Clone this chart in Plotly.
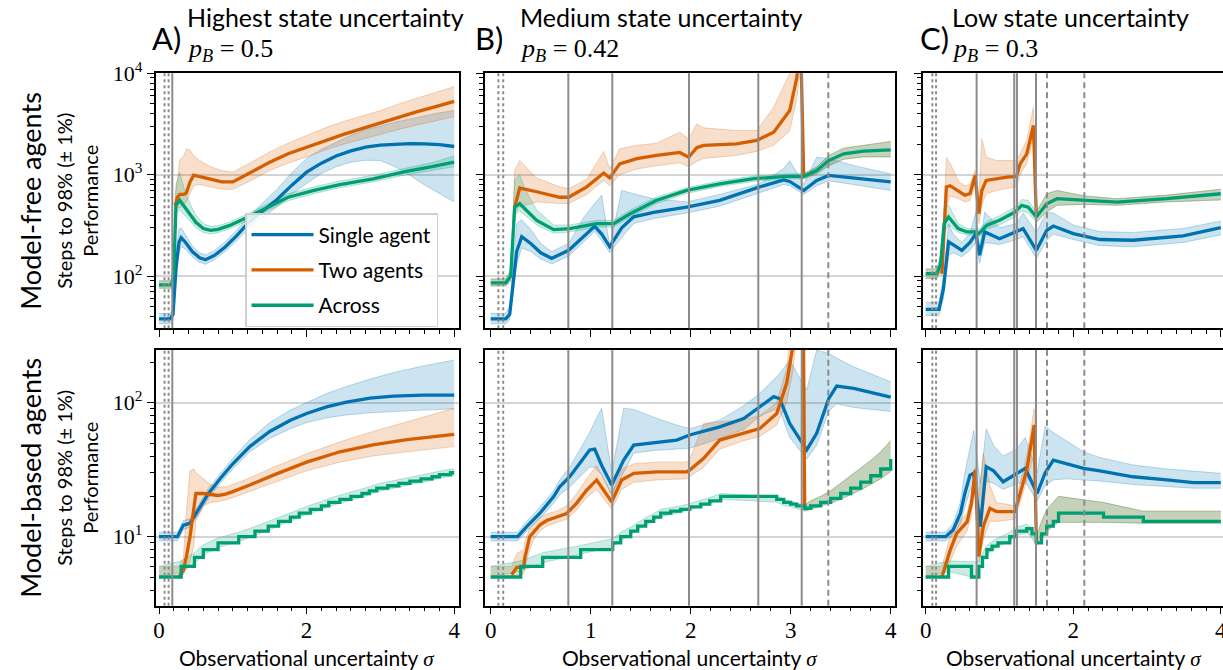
import plotly.graph_objects as go

# ---------------- data ----------------
# Panel A (p_B = 0.5) - model-free (top)
A_mf_single_x = [0, 0.15, 0.19, 0.23, 0.27, 0.30, 0.36, 0.45, 0.55, 0.63, 0.75, 0.9, 1.05, 1.2, 1.37, 1.6, 1.8, 2.0, 2.2, 2.4, 2.6, 2.8, 3.0, 3.2, 3.4, 3.6, 3.8, 4.0]
A_mf_single_y = [38, 38, 42, 120, 215, 240, 215, 175, 152, 145, 160, 195, 250, 330, 420, 570, 790, 1060, 1300, 1530, 1720, 1870, 1960, 2010, 2030, 2020, 1980, 1900]
A_mf_single_lo = [34, 34, 37, 90, 165, 195, 185, 155, 137, 131, 145, 176, 222, 290, 365, 480, 650, 820, 1030, 1200, 1330, 1390, 1380, 1200, 990, 790, 650, 540]
A_mf_single_hi = [43, 43, 48, 170, 290, 300, 255, 200, 170, 162, 178, 220, 283, 378, 500, 720, 1050, 1450, 1780, 2100, 2450, 2780, 3050, 3300, 3550, 3830, 4080, 4300]

A_mf_two_x = [0, 0.17, 0.2, 0.22, 0.25, 0.28, 0.33, 0.37, 0.42, 0.47, 0.55, 0.7, 0.85, 1.0, 1.25, 1.5, 1.75, 2.0, 2.25, 2.5, 2.75, 3.0, 3.25, 3.5, 3.75, 4.0]
A_mf_two_y = [None, None, None, 500, 600, 640, 640, 660, 850, 990, 960, 900, 850, 850, 1060, 1330, 1610, 1870, 2170, 2500, 2850, 3250, 3700, 4200, 4700, 5300]
A_mf_two_lo = [76, 76, 95, 420, 480, 470, 500, 540, 650, 780, 800, 760, 720, 720, 880, 1100, 1300, 1500, 1750, 2000, 2250, 2500, 2800, 3100, 3400, 3740]
A_mf_two_hi = [90, 90, 130, 650, 900, 1400, 1500, 1800, 1750, 1550, 1380, 1200, 1100, 1060, 1330, 1680, 2050, 2450, 2900, 3350, 3800, 4300, 5000, 5700, 6500, 7400]

A_mf_across_x = [0, 0.17, 0.2, 0.23, 0.28, 0.35, 0.42, 0.5, 0.6, 0.7, 0.8, 0.95, 1.2, 1.45, 1.75, 2.1, 2.45, 2.9, 3.35, 3.7, 4.0]
A_mf_across_y = [82, 82, 110, 500, 560, 480, 410, 340, 295, 283, 290, 315, 380, 470, 600, 700, 800, 910, 1080, 1200, 1330]
A_mf_across_lo = [76, 76, 95, 420, 450, 400, 350, 300, 268, 260, 268, 292, 352, 435, 555, 650, 745, 850, 1000, 1100, 1200]
A_mf_across_hi = [90, 90, 130, 800, 1050, 700, 520, 400, 330, 310, 315, 340, 410, 505, 650, 760, 870, 990, 1170, 1320, 1530]

# Panel A - model-based (bottom)
A_mb_single_x = [0, 0.25, 0.33, 0.42, 0.53, 0.67, 0.83, 1.0, 1.23, 1.5, 1.78, 2.0, 2.27, 2.54, 2.86, 3.18, 3.58, 4.0]
A_mb_single_y = [10, 10, 12.2, 12.6, 15.8, 21, 27.2, 35, 47, 61, 74, 83, 93, 101, 108, 112, 114, 114]
A_mb_single_lo = [9.3, 9.3, 11.3, 11.8, 14.5, 19.3, 25, 32, 43, 54, 64, 71, 77, 81, 84, 86, 88, 90]
A_mb_single_hi = [10.8, 10.8, 13.2, 13.6, 17, 23, 29.5, 38.5, 53, 71, 88, 100, 117, 132, 150, 168, 188, 208]

A_mb_two_x = [0, 0.27, 0.33, 0.37, 0.42, 0.47, 0.5, 0.6, 0.7, 0.8, 0.9, 1.0, 1.23, 1.55, 2.0, 2.45, 2.9, 3.36, 4.0]
A_mb_two_y = [None, 5, 5.6, 7.1, 10, 16, 21, 21, 20.5, 20.3, 20.8, 21.7, 24.3, 28.8, 36, 43, 48.5, 53, 58]
A_mb_two_lo = [5, 5, 5.2, 5.8, 6.5, 8.5, 13, 17, 18, 18.3, 18.8, 19.6, 21.8, 25.5, 31, 36, 40, 43, 47]
A_mb_two_hi = [6, 6, 7, 15, 31, 32, 30, 27, 24.5, 23.5, 23.5, 24.5, 27.5, 33, 41.5, 51, 61, 72, 91]

A_mb_across_x = [0, 0.3, 0.48, 0.6, 0.8, 1.08, 1.3, 1.48, 1.62, 1.78, 1.9, 2.05, 2.2, 2.3, 2.45, 2.6, 2.75, 2.85, 2.95, 3.1, 3.25, 3.4, 3.55, 3.7, 3.8, 3.95, 4.0]
A_mb_across_y = [5, 6, 7, 8, 9, 10, 11, 12, 13, 14, 15, 16, 17, 18, 19, 20, 21, 22, 23, 24, 25, 26, 27, 28, 29, 30, 30]
A_mb_across_lo = [5, 5.4, 6.3, 7.3, 8.3, 9.2, 10.2, 11.1, 12.1, 13, 14, 14.9, 15.9, 16.8, 17.8, 18.7, 19.7, 20.6, 21.6, 22.5, 23.5, 24.4, 25.4, 26.3, 27.3, 28.2, 28.5]
A_mb_across_hi = [6, 6.6, 7.6, 8.7, 9.8, 10.8, 11.9, 13, 14, 15.1, 16.1, 17.2, 18.3, 19.3, 20.4, 21.5, 22.5, 23.6, 24.7, 25.7, 26.8, 27.9, 28.9, 30, 31, 32, 32]

# Panel B (p_B = 0.42) - model-free
B_mf_single_x = [0, 0.15, 0.19, 0.26, 0.31, 0.4, 0.5, 0.61, 0.78, 0.93, 1.04, 1.11, 1.19, 1.31, 1.43, 1.63, 1.96, 2.29, 2.69, 2.93, 2.99, 3.13, 3.26, 3.38, 3.63, 4.0]
B_mf_single_y = [38, 38, 42, 175, 245, 210, 170, 150, 180, 245, 310, 260, 195, 300, 385, 425, 480, 560, 760, 890, 860, 700, 880, 985, 935, 850]
B_mf_single_lo = [34, 34, 37, 130, 190, 175, 148, 132, 158, 215, 275, 225, 170, 240, 330, 370, 420, 490, 660, 800, 780, 640, 780, 870, 800, 700]
B_mf_single_hi = [43, 43, 50, 330, 360, 290, 210, 175, 210, 380, 520, 630, 200, 700, 650, 580, 540, 640, 815, 1150, 1380, 800, 1490, 1450, 1235, 1020]

B_mf_two_x = [0, 0.15, 0.2, 0.24, 0.29, 0.46, 0.69, 0.78, 0.96, 1.13, 1.19, 1.29, 1.46, 1.66, 1.89, 1.98, 2.06, 2.13, 2.46, 2.66, 2.83, 2.99, 3.06, 3.1, 3.13, 3.26, 3.38, 3.53, 3.73, 4.0]
B_mf_two_y = [None, None, None, 480, 740, 680, 600, 600, 760, 1040, 930, 1280, 1440, 1550, 1660, 1490, 1850, 1950, 2020, 2180, 2630, 4300, 9000, 20000, 964, None, None, None, None, None]
B_mf_two_lo = [80, 80, 90, 430, 480, 540, 520, 520, 640, 880, 780, 1000, 1140, 1230, 1310, 1200, 1350, 1450, 1550, 1700, 1950, 2700, 5500, 12000, 910, 1020, 1230, 1420, 1500, 1500]
B_mf_two_hi = [94, 94, 115, 1100, 1380, 930, 760, 730, 900, 1700, 1150, 1800, 1950, 2050, 2630, 2260, 3170, 2900, 2730, 2730, 4630, 10000, 20000, 30000, 1030, 1190, 1550, 1830, 1950, 2130]

B_mf_across_x = [0, 0.15, 0.2, 0.24, 0.29, 0.35, 0.46, 0.63, 0.79, 1.06, 1.23, 1.39, 1.66, 1.96, 2.29, 2.63, 2.96, 3.13, 3.26, 3.38, 3.53, 3.73, 4.0]
B_mf_across_y = [86, 86, 100, 480, 518, 450, 355, 288, 295, 330, 330, 410, 560, 700, 815, 915, 964, 964, 1100, 1380, 1610, 1710, 1760]
B_mf_across_lo = [80, 80, 90, 400, 440, 395, 320, 265, 272, 305, 305, 380, 520, 655, 765, 860, 910, 910, 1020, 1230, 1420, 1500, 1500]
B_mf_across_hi = [94, 94, 115, 900, 1000, 700, 450, 320, 320, 355, 355, 445, 605, 745, 870, 970, 1020, 1030, 1190, 1550, 1830, 1950, 2130]

# Panel B - model-based
B_mb_single_x = [0, 0.27, 0.36, 0.49, 0.63, 0.69, 0.79, 0.89, 0.99, 1.04, 1.11, 1.21, 1.33, 1.43, 1.63, 1.86, 1.99, 2.29, 2.53, 2.69, 2.83, 2.89, 2.99, 3.16, 3.26, 3.38, 3.46, 3.63, 4.0]
B_mb_single_y = [10, 10, 11.9, 14.9, 19.9, 23.6, 28, 35.2, 44.4, 45, 34, 24.3, 37.3, 48.3, 50, 52.6, 57.4, 66, 76, 93, 111, 107, 70, 44.4, 59, 107, 133, 128, 110]
B_mb_single_lo = [9.3, 9.3, 11, 13.6, 17.8, 20.5, 23.5, 28, 33, 33, 29, 20.4, 30, 42, 44, 45, 45.6, 54, 63, 79, 88, 88, 55, 38, 48, 86, 98, 92, 86]
B_mb_single_hi = [10.8, 10.8, 13, 16.5, 22, 26.5, 33, 45, 60, 72, 91, 30, 91, 89, 78, 68, 64, 74, 95, 117, 150, 165, 208, 124, 247, 233, 215, 185, 143]

B_mb_two_x = [0, 0.21, 0.26, 0.33, 0.34, 0.39, 0.43, 0.49, 0.56, 0.66, 0.76, 0.86, 0.96, 1.06, 1.21, 1.31, 1.43, 1.66, 1.96, 1.99, 2.13, 2.29, 2.53, 2.69, 2.86, 2.96, 3.02, 3.08, 3.12, 3.14, 3.2, 3.3, 3.4, 3.5, 3.6, 3.7, 3.8, 3.9, 4.0]
B_mb_two_y = [None, 5.2, 5.9, 5.9, 6.9, 10, 10.9, 12.2, 13.2, 14, 14.9, 17.8, 22.3, 26.5, 18.2, 26.5, 29.7, 30.5, 30.5, 31.4, 38.5, 52.6, 59, 64, 83, 140, 260, 700, 2000, 16.3, None, None, None, None, None, None, None, None, None]
B_mb_two_lo = [5, 5, 5.2, 5.3, 5.8, 8, 9.5, 11, 12, 12.8, 13.5, 15.8, 19.5, 22.5, 16, 22.5, 25.5, 26.5, 27, 28, 33, 45, 52, 56, 68, 100, 170, 400, 1000, 15.5, 16, 16.8, 17.8, 19, 20.5, 22.3, 24.5, 27, 30.6]
B_mb_two_hi = [6, 6, 7.5, 8, 9, 11.5, 12.5, 13.8, 14.8, 15.5, 17, 21, 27, 34, 21, 32, 35, 36, 36, 38, 70, 72, 75, 80, 100, 180, 400, 1200, 3000, 17.2, 18.5, 20, 22, 25, 28.5, 32.5, 37, 43, 52]

B_mb_across_x = [0, 0.3, 0.52, 0.9, 1.22, 1.3, 1.4, 1.47, 1.55, 1.63, 1.7, 1.8, 1.9, 1.99, 2.1, 2.19, 2.3, 2.86, 2.93, 3.0, 3.06, 3.14, 3.2, 3.3, 3.4, 3.5, 3.6, 3.7, 3.8, 3.9, 4.0]
B_mb_across_y = [5, 6, 7, 8, 9, 10, 11, 12, 13, 14, 15, 15.5, 16, 16.7, 17.5, 18.5, 20, 19, 18, 17.5, 17, 16.3, 17, 18, 19.3, 21, 23, 25.5, 28.5, 32, 38]
B_mb_across_lo = [5, 5.5, 6.4, 7.4, 8.4, 9.3, 10.3, 11.2, 12.2, 13.1, 14.1, 14.6, 15.2, 15.9, 16.7, 17.6, 19, 18.1, 17.1, 16.7, 16.2, 15.5, 16, 16.8, 17.8, 19, 20.5, 22.3, 24.5, 27, 30.6]
B_mb_across_hi = [6, 6.6, 7.6, 8.6, 9.7, 10.8, 11.8, 12.8, 13.9, 14.9, 16, 16.5, 17, 17.7, 18.6, 19.6, 21, 20, 19, 18.4, 17.9, 17.2, 18.5, 20, 22, 25, 28.5, 32.5, 37, 43, 52]

# Panel C (p_B = 0.3) - model-free
C_mf_single_x = [0, 0.18, 0.24, 0.31, 0.37, 0.49, 0.6, 0.68, 0.73, 0.8, 1.0, 1.23, 1.32, 1.5, 1.64, 1.73, 2.0, 2.36, 2.81, 3.49, 4.0]
C_mf_single_y = [47, 47, 75, 218, 205, 180, 215, 263, 161, 273, 234, 273, 294, 180, 283, 312, 263, 230, 226, 250, 301]
C_mf_single_lo = [41, 41, 60, 160, 170, 155, 180, 215, 135, 215, 205, 230, 245, 150, 225, 260, 230, 200, 195, 215, 255]
C_mf_single_hi = [55, 55, 100, 330, 260, 215, 265, 430, 190, 430, 300, 330, 420, 270, 430, 420, 320, 275, 270, 295, 350]

C_mf_two_x = [0, 0.15, 0.2, 0.22, 0.28, 0.33, 0.45, 0.53, 0.6, 0.67, 0.72, 0.76, 0.82, 0.96, 1.1, 1.23, 1.28, 1.37, 1.46, 1.5, 1.64, 1.78, 2.14, 2.59, 3.27, 4.0]
C_mf_two_y = [None, None, None, 106, 757, 780, 680, 630, 650, 985, 413, 700, 880, 913, 950, 963, 1280, 1610, 3060, 384, None, None, None, None, None, None]
C_mf_two_lo = [95, 95, 110, 100, 480, 620, 580, 540, 560, 780, 330, 500, 650, 700, 730, 760, 1000, 1300, 2300, 340, 430, 500, 510, 500, 540, 565]
C_mf_two_hi = [118, 118, 155, 130, 1480, 1300, 850, 780, 800, 1100, 600, 2260, 1500, 1380, 1380, 1380, 1600, 2200, 4630, 430, 650, 700, 620, 580, 630, 720]

C_mf_across_x = [0, 0.15, 0.2, 0.25, 0.31, 0.44, 0.56, 0.68, 0.72, 0.83, 1.0, 1.21, 1.3, 1.39, 1.5, 1.64, 1.78, 2.14, 2.59, 3.27, 4.0]
C_mf_across_y = [106, 106, 130, 330, 384, 295, 273, 273, 262, 318, 356, 429, 499, 480, 384, 518, 581, 560, 538, 581, 650]
C_mf_across_lo = [95, 95, 110, 270, 320, 270, 255, 255, 240, 290, 320, 385, 440, 420, 340, 430, 500, 510, 500, 540, 565]
C_mf_across_hi = [118, 118, 155, 480, 500, 330, 295, 295, 290, 345, 395, 480, 570, 560, 430, 650, 700, 620, 580, 630, 720]

# Panel C - model-based
C_mb_single_x = [0, 0.27, 0.37, 0.47, 0.53, 0.6, 0.65, 0.74, 0.82, 0.92, 1.05, 1.23, 1.35, 1.51, 1.62, 1.73, 1.91, 2.14, 2.36, 2.81, 3.27, 3.63, 4.0]
C_mb_single_y = [10, 10, 11.2, 14.9, 21, 28.8, 29.7, 11.9, 33.3, 31, 25.7, 29.7, 32.4, 21, 30, 37.3, 35.2, 32.4, 31, 28, 26.5, 25.3, 25.3]
C_mb_single_lo = [9.3, 9.3, 10.3, 12.5, 16.5, 22, 24, 10, 26, 25, 22.5, 24.8, 25.5, 18.5, 24, 26.5, 27, 26.5, 26, 24.5, 23.5, 23, 23]
C_mb_single_hi = [10.8, 10.8, 12.5, 18, 30, 45, 62, 25, 64, 48, 40, 45, 55, 30, 67, 60, 52, 43, 39, 34.3, 32, 31, 29.7]

C_mb_two_x = [0, 0.22, 0.33, 0.42, 0.56, 0.62, 0.67, 0.72, 0.78, 0.87, 0.96, 1.21, 1.28, 1.37, 1.47, 1.5, 1.57, 1.64, 1.73, 1.8, 2.41, 2.95, 4.0]
C_mb_two_y = [None, 5, 7.9, 10.6, 12.9, 17.7, 31.5, 7.1, 11.9, 16.3, 15.4, 15.4, 21, 31.5, 68, 9, None, None, None, None, None, None, None]
C_mb_two_lo = [5, 5, 6.5, 8.5, 11, 14.5, 24, 6.5, 9.5, 13, 13, 13.5, 18, 26, 42, 8.6, 9.5, 11, 12, 12.8, 12.8, 12.6, 12.6]
C_mb_two_hi = [6, 6, 10, 12.5, 15, 21, 33, 20, 42, 24, 18, 17, 25, 40, 90, 10, 13, 16, 18, 20, 18, 15.5, 15.5]

C_mb_across_x = [0, 0.31, 0.62, 0.72, 0.77, 0.83, 0.9, 0.98, 1.14, 1.23, 1.37, 1.44, 1.5, 1.57, 1.64, 1.73, 1.8, 2.41, 2.95, 4.0]
C_mb_across_y = [5, 6, 5, 6, 7, 8, 8.5, 9, 10, 11, 11.5, 10.5, 9, 10.5, 12, 13, 15, 14, 13, 13]
C_mb_across_lo = [5, 5.5, 5, 5.5, 6.5, 7.4, 7.9, 8.4, 9.3, 10.2, 10.7, 9.7, 8.6, 9.5, 11, 12, 12.8, 12.8, 12.6, 12.6]
C_mb_across_hi = [6, 6.6, 6.5, 6.5, 7.6, 8.6, 9.2, 9.8, 10.8, 11.8, 12.4, 11.5, 10, 13, 16, 18, 20, 18, 15.5, 15.5]

# vertical reference lines (sigma values)
A_dotted = [0.075, 0.13]
A_solid = [0.18]
A_dashed = []
B_dotted = [0.077, 0.125]
B_solid = [0.776, 1.216, 1.983, 2.676, 3.11]
B_dashed = [3.376]
C_dotted = [0.09, 0.14]
C_solid = [0.69, 1.20, 1.237, 1.495]
C_dashed = [1.644, 2.15]

series_names = ["Single agent", "Two agents", "Across"]
panel_letters = ["A)", "B)", "C)"]
panel_titles = ["Highest state uncertainty", "Medium state uncertainty", "Low state uncertainty"]
panel_pB = ["0.5", "0.42", "0.3"]
row_titles = ["Model-free agents", "Model-based agents"]
x_major = {"A": [0, 2, 4], "B": [0, 1, 2, 3, 4], "C": [0, 2, 4]}
x_minor = [0.2, 0.4, 0.6, 0.8, 1.0, 1.2, 1.4, 1.6, 1.8, 2.2, 2.4, 2.6, 2.8, 3.0, 3.2, 3.4, 3.6, 3.8]
y_major_top = [10, 100, 1000, 10000]
y_major_top_text = ["10<sup>1</sup>", "10<sup>2</sup>", "10<sup>3</sup>", "10<sup>4</sup>"]
y_major_bot = [1, 10, 100, 1000]
y_major_bot_text = ["10<sup>0</sup>", "10<sup>1</sup>", "10<sup>2</sup>", "10<sup>3</sup>"]
y_minor_top = [20, 30, 40, 50, 60, 70, 80, 90, 200, 300, 400, 500, 600, 700, 800, 900,
               2000, 3000, 4000, 5000, 6000, 7000, 8000, 9000]
y_minor_bot = [2, 3, 4, 5, 6, 7, 8, 9, 20, 30, 40, 50, 60, 70, 80, 90, 200, 300]

# ---------------- styling ----------------
W, H = 1223, 670
COLORS = ["#0072B2", "#D55E00", "#009E73"]
FILLS = ["rgba(0,114,178,0.2)", "rgba(213,94,0,0.2)", "rgba(0,158,115,0.2)"]
EDGES = ["rgba(0,114,178,0.25)", "rgba(213,94,0,0.25)", "rgba(0,158,115,0.25)"]
SANS = "Lato, 'DejaVu Sans', sans-serif"
SERIF = "'Liberation Serif', 'DejaVu Serif', serif"

col_px = {"A": (155.7, 459.0), "B": (485.0, 895.0), "C": (922.7, 1223.0)}
row_px = {"mf": (73.3, 328.3), "mb": (350.0, 605.7)}
x_ranges = {"A": [-0.045, 4.065], "B": [-0.057, 4.043], "C": [-0.041, 4.03]}
y_ranges = {"mf": [1.486, 4.0005], "mb": [0.485, 2.393]}

g = globals()
panels = []
idx = 0
for r in ["mf", "mb"]:
    for c in ["A", "B", "C"]:
        idx += 1
        panels.append((idx, c, r))

fig = go.Figure()
layout = {}
shapes = []
for idx, c, r in panels:
    xa = "x" if idx == 1 else f"x{idx}"
    ya = "y" if idx == 1 else f"y{idx}"
    keys = ["single", "two", "across"]
    # bands
    for k, key in enumerate(keys):
        pre = f"{c}_{r}_{key}"
        x = g[pre + "_x"]
        lo = g[pre + "_lo"]
        hi = g[pre + "_hi"]
        fig.add_trace(go.Scatter(x=x, y=lo, mode="lines", xaxis=xa, yaxis=ya,
                                 line=dict(color=EDGES[k], width=1),
                                 showlegend=False, hoverinfo="skip"))
        fig.add_trace(go.Scatter(x=x, y=hi, mode="lines", xaxis=xa, yaxis=ya, fill="tonexty",
                                 fillcolor=FILLS[k], line=dict(color=EDGES[k], width=1),
                                 showlegend=False, hoverinfo="skip"))
    # mean lines
    for k, key in enumerate(keys):
        pre = f"{c}_{r}_{key}"
        shp = "hv" if (key == "across" and r == "mb") else "linear"
        fig.add_trace(go.Scatter(x=g[pre + "_x"], y=g[pre + "_y"], mode="lines", xaxis=xa, yaxis=ya,
                                 line=dict(color=COLORS[k], width=3.3, shape=shp),
                                 name=series_names[k], legendgroup=series_names[k],
                                 showlegend=(idx == 1), hoverinfo="skip"))
    # vertical lines
    for val in g[f"{c}_dotted"]:
        shapes.append(dict(type="line", xref=xa, yref=f"{ya} domain", x0=val, x1=val, y0=0, y1=1,
                           line=dict(color="#8c8c8c", width=2, dash="dot"), layer="above"))
    for val in g[f"{c}_solid"]:
        shapes.append(dict(type="line", xref=xa, yref=f"{ya} domain", x0=val, x1=val, y0=0, y1=1,
                           line=dict(color="#8c8c8c", width=2), layer="above"))
    for val in g[f"{c}_dashed"]:
        shapes.append(dict(type="line", xref=xa, yref=f"{ya} domain", x0=val, x1=val, y0=0, y1=1,
                           line=dict(color="#8c8c8c", width=2, dash="6px,4px"), layer="above"))

    x0p, x1p = col_px[c]
    y0p, y1p = row_px[r]
    layout["xaxis" if idx == 1 else f"xaxis{idx}"] = dict(
        domain=[x0p / W, min(1.0, x1p / W)], range=x_ranges[c], anchor=ya, automargin=False,
        showline=True, linecolor="black", linewidth=1.5, mirror=True,
        ticks="outside", ticklen=7, tickwidth=1.4, tickcolor="black",
        tickmode="array", tickvals=x_major[c], ticktext=[str(v) for v in x_major[c]],
        showticklabels=(r == "mb"), ticklabeloverflow="allow", ticklabelstandoff=-4,
        tickfont=dict(family=SERIF, size=23, color="black"),
        minor=dict(tickmode="array", tickvals=x_minor, ticks="outside", ticklen=4, tickwidth=1.1,
                   tickcolor="black", showgrid=False),
        showgrid=False, zeroline=False, fixedrange=True)
    layout["yaxis" if idx == 1 else f"yaxis{idx}"] = dict(
        domain=[1 - y1p / H, 1 - y0p / H], type="log", range=y_ranges[r], anchor=xa, automargin=False,
        showline=True, linecolor="black", linewidth=1.5, mirror=(c != "C"),
        ticks="outside", ticklen=7, tickwidth=1.4, tickcolor="black",
        tickmode="array", tickvals=y_major_top if r == "mf" else y_major_bot,
        ticktext=y_major_top_text if r == "mf" else y_major_bot_text,
        showticklabels=(c == "A"), ticklabeloverflow="allow",
        tickfont=dict(family=SERIF, size=22, color="black"),
        minor=dict(tickmode="array", tickvals=y_minor_top if r == "mf" else y_minor_bot,
                   ticks="outside", ticklen=4, tickwidth=1.1, tickcolor="black", showgrid=False),
        showgrid=True, gridcolor="#d4d4d4", gridwidth=1.5, zeroline=False, fixedrange=True)

annotations = []
title_left = {"A": 185, "B": 518, "C": 950}
letter_left = {"A": 150, "B": 473, "C": 918}
for k, c in enumerate(["A", "B", "C"]):
    annotations.append(dict(text=panel_letters[k], x=letter_left[c] / W, y=1 - 38 / H, xref="paper", yref="paper",
                            xanchor="left", yanchor="middle", showarrow=False,
                            font=dict(family=SANS, size=31, color="black")))
    annotations.append(dict(text=panel_titles[k], x=title_left[c] / W, y=1 - 17 / H, xref="paper", yref="paper",
                            xanchor="left", yanchor="middle", showarrow=False,
                            font=dict(family=SANS, size=25, color="black")))
    annotations.append(dict(text="<i>p</i><sub><i>B</i></sub> = " + panel_pB[k], x=title_left[c] / W, y=1 - 50 / H,
                            xref="paper", yref="paper", xanchor="left", yanchor="middle", showarrow=False,
                            font=dict(family=SERIF, size=26, color="black")))
    cx = (col_px[c][0] + (col_px[c][1] if c != "C" else 1226)) / 2
    annotations.append(dict(text="Observational uncertainty <span style='font-family:Liberation Serif'><i>σ</i></span>",
                            x=cx / W, y=1 - 658 / H, xref="paper", yref="paper",
                            xanchor="center", yanchor="middle", showarrow=False,
                            font=dict(family=SANS, size=21, color="black")))
for k, r in enumerate(["mf", "mb"]):
    cy = (row_px[r][0] + row_px[r][1]) / 2
    annotations.append(dict(text=row_titles[k], x=31 / W, y=1 - cy / H, xref="paper", yref="paper",
                            xanchor="center", yanchor="middle", textangle=-90, showarrow=False,
                            font=dict(family=SANS, size=27, color="black")))
    annotations.append(dict(text="Steps to 98% (± 1%)", x=64 / W, y=1 - cy / H, xref="paper", yref="paper",
                            xanchor="center", yanchor="middle", textangle=-90, showarrow=False,
                            font=dict(family=SANS, size=20, color="black")))
    annotations.append(dict(text="Performance", x=90 / W, y=1 - cy / H, xref="paper", yref="paper",
                            xanchor="center", yanchor="middle", textangle=-90, showarrow=False,
                            font=dict(family=SANS, size=20, color="black")))

fig.update_layout(
    width=W, height=H, margin=dict(l=0, r=0, t=0, b=0, autoexpand=False),
    paper_bgcolor="white", plot_bgcolor="white",
    font=dict(family=SANS, color="black"),
    shapes=shapes, annotations=annotations,
    legend=dict(x=245 / W, y=1 - 213 / H, xanchor="left", yanchor="top",
                bgcolor="rgba(255,255,255,0.85)", bordercolor="#cfcfcf", borderwidth=1.5,
                font=dict(family=SANS, size=21, color="black"), tracegroupgap=5,
                itemwidth=62),
    **layout)

fig.write_html("out.html", include_plotlyjs=True, full_html=True, config={"displayModeBar": False})
